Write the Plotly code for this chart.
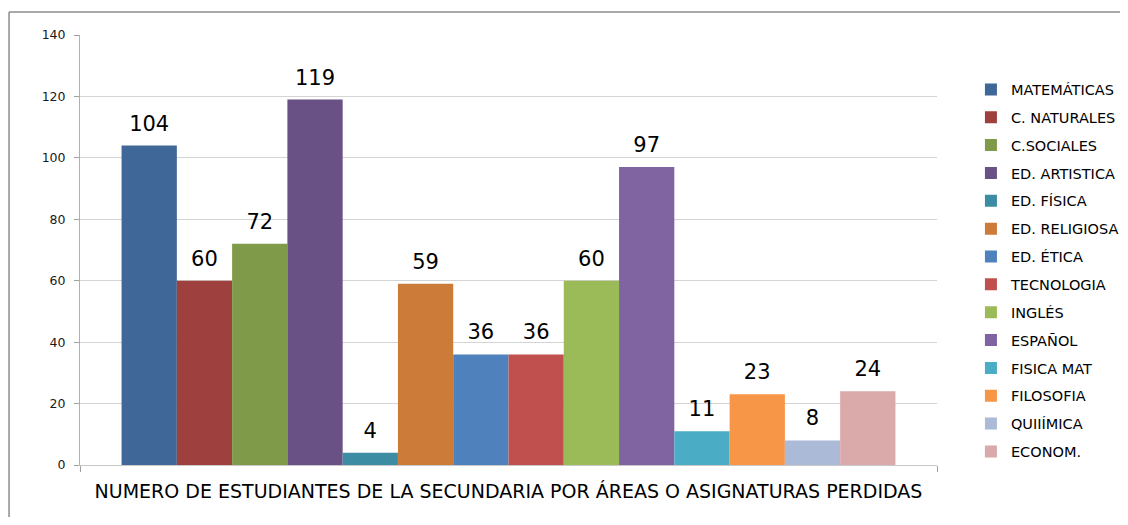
import plotly.graph_objects as go

subjects = ["MATEMÁTICAS", "C. NATURALES", "C.SOCIALES", "ED. ARTISTICA", "ED. FÍSICA",
            "ED. RELIGIOSA", "ED. ÉTICA", "TECNOLOGIA", "INGLÉS", "ESPAÑOL",
            "FISICA MAT", "FILOSOFIA", "QUIIÍMICA", "ECONOM."]
values = [104, 60, 72, 119, 4, 59, 36, 36, 60, 97, 11, 23, 8, 24]
colors = ["#3F6797", "#9E413E", "#7F9A48", "#695185", "#3C8DA3", "#CC7B38", "#4F81BD",
          "#C0504D", "#9BBB59", "#8064A2", "#4BACC6", "#F79646", "#AABAD7", "#D9AAA9"]
axis_title = "NUMERO DE ESTUDIANTES DE LA SECUNDARIA POR ÁREAS O ASIGNATURAS PERDIDAS"

FONT = "DejaVu Sans"
GAP = 0.097

fig = go.Figure()
for i, (name, v, c) in enumerate(zip(subjects, values, colors)):
    fig.add_trace(go.Bar(
        x=[0], y=[v], name=name, legendgroup=f"g{i}",
        marker=dict(color=c, line=dict(width=0)),
    ))
for i, v in enumerate(values):
    fig.add_trace(go.Scatter(
        x=[0], y=[v], mode="markers+text", text=[str(v)], textposition="top center",
        marker=dict(size=14, opacity=0), showlegend=False, hoverinfo="skip",
        textfont=dict(size=21, color="#000000", family=FONT), cliponaxis=False,
    ))

fig.update_layout(
    width=1120, height=509,
    margin=dict(l=72, r=191, t=27, b=52, autoexpand=False),
    paper_bgcolor="white", plot_bgcolor="white",
    barmode="group", bargap=GAP, bargroupgap=0,
    scattermode="group", scattergap=GAP,
    font=dict(family=FONT, color="#000000"),
    showlegend=True,
    legend=dict(x=1.0396, y=0.9105, xanchor="left", yanchor="top",
                font=dict(size=14.5, family=FONT, color="#000000"),
                tracegroupgap=6, itemclick=False, bgcolor="rgba(0,0,0,0)"),
    xaxis=dict(range=[-0.5, 0.5], tickvals=[-0.5, 0.5], showticklabels=False,
               ticks="outside", ticklen=6, tickcolor="#A0A0A0",
               showline=True, linecolor="#C8C8C8", linewidth=1, showgrid=False, zeroline=False,
               title=dict(text=axis_title, font=dict(size=19, family=FONT, color="#000000"), standoff=13)),
    yaxis=dict(range=[0, 140], dtick=20, ticks="outside", ticklen=5, tickcolor="#A0A0A0",
               showline=True, linecolor="#B0B0B0", linewidth=1, ticklabelstandoff=6,
               gridcolor="#D4D4D4", gridwidth=1, zeroline=False,
               tickfont=dict(size=12.5, family=FONT, color="#1A1A1A")),
    shapes=[
        dict(type="line", xref="paper", yref="paper", x0=-0.0828, x1=1.25, y0=1.0535, y1=1.0535,
             line=dict(color="#8C8C8C", width=1.5)),
        dict(type="line", xref="paper", yref="paper", x0=-0.0828, x1=-0.0828, y0=1.0535, y1=-0.2,
             line=dict(color="#8C8C8C", width=1.5)),
    ],
)

fig.write_html("out.html")
